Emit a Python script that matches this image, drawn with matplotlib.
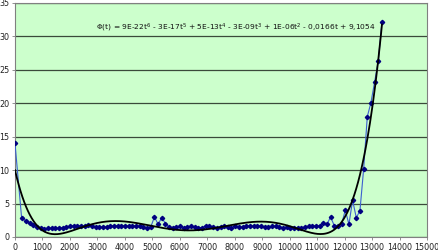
import numpy as np
import matplotlib
matplotlib.use("Agg")
import matplotlib.pyplot as plt

# ---- data ----
t = [0, 240, 401, 534, 668, 802, 935, 1069, 1202, 1336, 1470, 1603, 1737, 1870,
     2004, 2138, 2271, 2405, 2538, 2672, 2806, 2939, 3073, 3206, 3340, 3474,
     3607, 3741, 3874, 4008, 4142, 4275, 4409, 4542, 4676, 4810, 4943, 5077,
     5210, 5344, 5478, 5611, 5745, 5878, 6012, 6146, 6279, 6413, 6546, 6680,
     6814, 6947, 7081, 7214, 7348, 7482, 7615, 7749, 7882, 8016, 8150, 8283,
     8417, 8550, 8684, 8818, 8951, 9085, 9218, 9352, 9486, 9619, 9753, 9886,
     10020, 10154, 10287, 10421, 10554, 10688, 10822, 10955, 11089, 11222,
     11356, 11490, 11623, 11757, 11890, 12024, 12158, 12291, 12425, 12558,
     12692, 12826, 12959, 13093, 13226, 13360]
phi = [14.0, 2.9, 2.4, 2.1, 1.8, 1.5, 1.4, 1.2, 1.3, 1.3, 1.3, 1.4, 1.4,
       1.5, 1.6, 1.7, 1.7, 1.6, 1.7, 1.8, 1.6, 1.5, 1.5, 1.5, 1.5, 1.6,
       1.7, 1.7, 1.6, 1.7, 1.6, 1.6, 1.7, 1.6, 1.5, 1.4, 1.5, 3.0, 1.9,
       2.9, 2.0, 1.5, 1.4, 1.5, 1.6, 1.4, 1.5, 1.6, 1.5, 1.4, 1.4, 1.7,
       1.6, 1.5, 1.4, 1.5, 1.6, 1.5, 1.4, 1.6, 1.5, 1.5, 1.6, 1.7, 1.6,
       1.7, 1.6, 1.5, 1.5, 1.6, 1.6, 1.5, 1.4, 1.5, 1.4, 1.3, 1.4, 1.4,
       1.5, 1.6, 1.7, 1.6, 1.7, 2.1, 1.9, 3.0, 1.7, 1.7, 1.9, 4.0, 1.9,
       5.5, 2.9, 3.9, 10.1, 18.0, 20.1, 23.2, 26.3, 32.2]
equation = (r"$\Phi$(t) = 9E-22t$^6$ - 3E-17t$^5$ + 5E-13t$^4$ - 3E-09t$^3$"
            r" + 1E-06t$^2$ - 0,0166t + 9,1054")

fig = plt.figure(figsize=(4.39, 2.52), dpi=100)
ax = fig.add_axes([15/439, 15/252, 412/439, 234/252])
ax.set_facecolor("#ccffcc")

# data series
ax.plot(t, phi, color="#3c5fd0", lw=0.8, marker="D", markersize=2.2,
        markerfacecolor="#000080", markeredgecolor="#000080", zorder=3)

# 6th order polynomial trendline
coef = np.polyfit(t, phi, 6)
tt = np.linspace(0, t[-1], 400)
ax.plot(tt, np.polyval(coef, tt), color="black", lw=1.3, zorder=4)

ax.text(0.536, 0.895, equation, transform=ax.transAxes, ha="center",
        va="center", fontsize=5.4, color="#111111")

ax.set_xlim(0, 15000)
ax.set_ylim(0, 35)
ax.set_xticks(range(0, 15001, 1000))
ax.set_yticks(range(0, 36, 5))
ax.yaxis.grid(True, color="#3a4a3a", lw=0.9)
ax.set_axisbelow(True)
for s in ax.spines.values():
    s.set_color("#808080")
    s.set_linewidth(0.8)
ax.tick_params(labelsize=5.8, colors="#222222", length=2.5, width=0.6,
               pad=1.5)
ax.tick_params(axis="both", color="#808080")

fig.savefig("out.png", dpi=100)
